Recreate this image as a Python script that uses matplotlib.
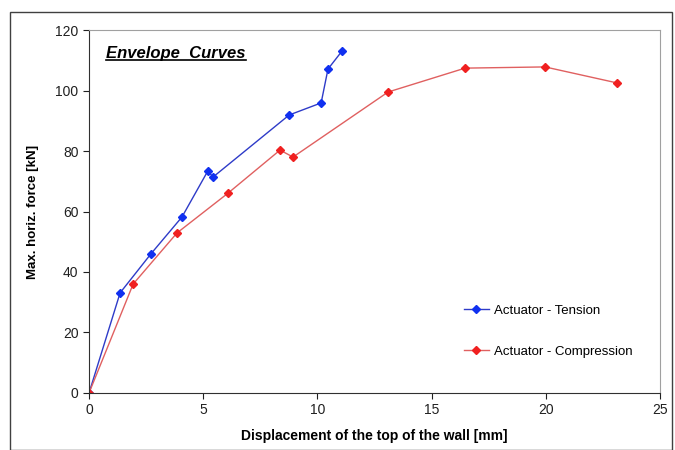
import matplotlib.pyplot as plt
from matplotlib.lines import Line2D
from matplotlib.patches import Rectangle

tension_x = [0, 1.36, 2.71, 4.07, 5.2, 5.43, 8.76, 10.16, 10.46, 11.08]
tension_y = [0, 33.1, 46.0, 58.2, 73.4, 71.4, 91.9, 95.9, 107.1, 113.1]

compression_x = [0, 1.93, 3.85, 6.09, 8.36, 8.93, 13.09, 16.46, 19.96, 23.12]
compression_y = [0, 36.0, 52.9, 66.1, 80.3, 78.0, 99.5, 107.4, 107.8, 102.5]

x_ticks = [0, 5, 10, 15, 20, 25]
y_ticks = [0, 20, 40, 60, 80, 100, 120]

plt.rcParams['font.family'] = ['Liberation Sans', 'DejaVu Sans']

fig = plt.figure(figsize=(6.75, 4.5), dpi=100)
ax = fig.add_axes([0.1319, 0.1267, 0.8461, 0.8066])

ax.plot(tension_x, tension_y, color="#2e3bc8", linewidth=1.0, marker="D",
        markersize=4.5, markerfacecolor="#1030f0", markeredgecolor="#1030f0",
        label="Actuator - Tension")
ax.plot(compression_x, compression_y, color="#e06060", linewidth=1.0, marker="D",
        markersize=4.5, markerfacecolor="#f02020", markeredgecolor="#f02020",
        label="Actuator - Compression")

ax.set_xlim(0, 25)
ax.set_ylim(0, 120)
ax.set_xticks(x_ticks)
ax.set_yticks(y_ticks)
ax.tick_params(labelsize=10, length=4, width=0.8, colors="#202020")

for side in ["top", "right"]:
    ax.spines[side].set_color("#a0a0a0")
for side in ["left", "bottom"]:
    ax.spines[side].set_color("#303030")

ax.set_xlabel("Displacement of the top of the wall [mm]", fontsize=10,
              fontweight="bold", labelpad=8)
ax.set_ylabel("Max. horiz. force [kN]", fontsize=9.5, fontweight="bold",
              labelpad=12)

title = ax.text(0.03, 0.935, "Envelope  Curves", transform=ax.transAxes,
                fontsize=12, fontweight="bold", fontstyle="italic",
                va="center", ha="left")

ax.legend(loc="center left", bbox_to_anchor=(0.635, 0.17), frameon=False,
          fontsize=9.5, labelspacing=2.2, handlelength=1.9, handletextpad=0.4)

# outer frame around the whole chart
fig.patches.append(Rectangle((0.015, 0.0), 0.98, 0.973, transform=fig.transFigure,
                             fill=False, edgecolor="#404040", linewidth=1.0))

# underline the title
fig.canvas.draw()
bb = title.get_window_extent().transformed(fig.transFigure.inverted())
fig.lines.append(Line2D([bb.x0, bb.x1], [bb.y0 + 0.002, bb.y0 + 0.002],
                        transform=fig.transFigure, color="black", linewidth=1.2))

fig.savefig("out.png", dpi=100)
